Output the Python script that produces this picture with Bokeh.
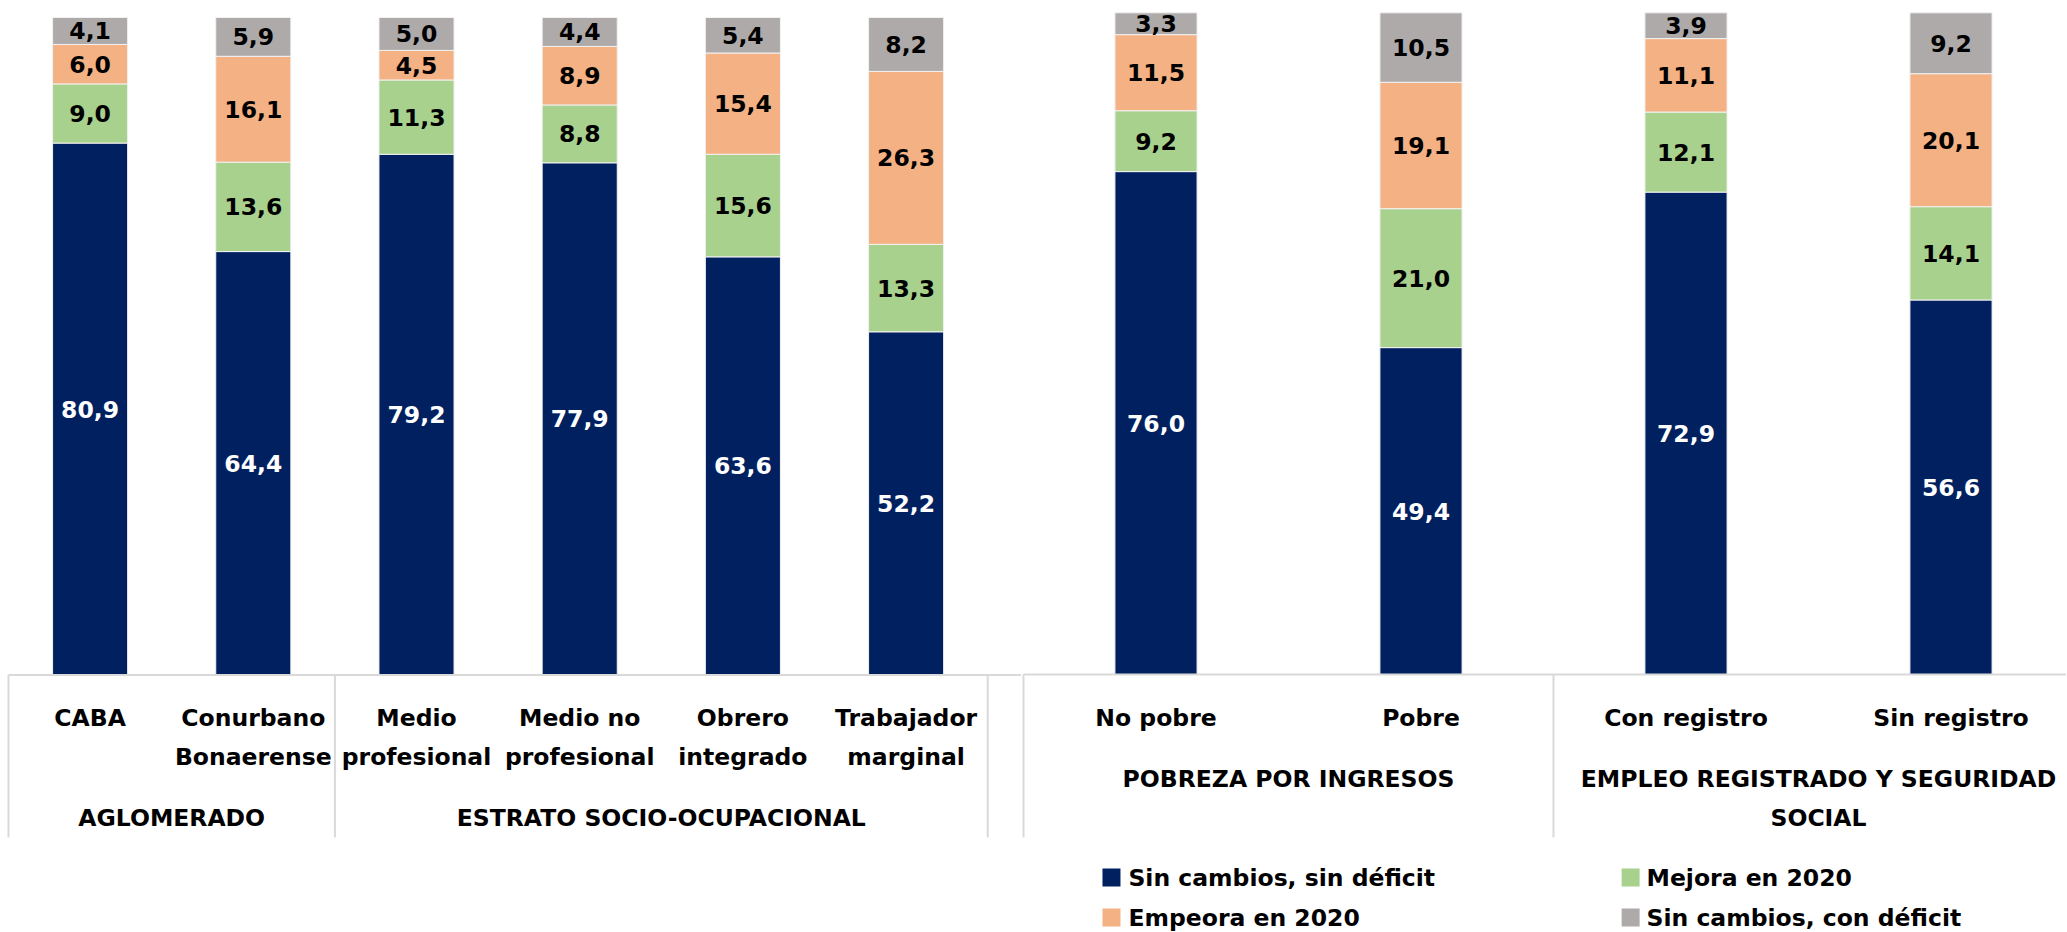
from bokeh.plotting import figure
from bokeh.models import ColumnDataSource, Range1d
from bokeh.layouts import row
from bokeh.embed import file_html
from bokeh.resources import INLINE
from bokeh.core.properties import value

# ---------------- data ----------------
series_names = ["Sin cambios, sin déficit", "Mejora en 2020", "Empeora en 2020", "Sin cambios, con déficit"]
series_colors = ["#002060", "#A9D18E", "#F4B183", "#AEAAAA"]
label_colors = ["#FFFFFF", "#000000", "#000000", "#000000"]

left_categories = ["CABA", "Conurbano\nBonaerense", "Medio\nprofesional", "Medio no\nprofesional",
                   "Obrero\nintegrado", "Trabajador\nmarginal"]
left_groups = ["AGLOMERADO", "ESTRATO SOCIO-OCUPACIONAL"]
left_group_sizes = [2, 4]
left_sin_deficit = [80.9, 64.4, 79.2, 77.9, 63.6, 52.2]
left_mejora = [9.0, 13.6, 11.3, 8.8, 15.6, 13.3]
left_empeora = [6.0, 16.1, 4.5, 8.9, 15.4, 26.3]
left_con_deficit = [4.1, 5.9, 5.0, 4.4, 5.4, 8.2]

right_categories = ["No pobre", "Pobre", "Con registro", "Sin registro"]
right_groups = ["POBREZA POR INGRESOS", "EMPLEO REGISTRADO Y SEGURIDAD\nSOCIAL"]
right_group_sizes = [2, 2]
right_sin_deficit = [76.0, 49.4, 72.9, 56.6]
right_mejora = [9.2, 21.0, 12.1, 14.1]
right_empeora = [11.5, 19.1, 11.1, 20.1]
right_con_deficit = [3.3, 10.5, 3.9, 9.2]

FONT = "DejaVu Sans"
FS = "23.5px"
FIG_H = 931


def fmt(v):
    return f"{v:.1f}".replace(".", ",")


def make_chart(categories, groups, group_sizes, series, width, slot_px, left_px,
               zero_px, hundred_px, bar_width, group_line_px, legend=False):
    scale = (zero_px - hundred_px) / 100.0
    x_start = -left_px / slot_px
    x_end = x_start + width / slot_px
    y_end = 100 + hundred_px / scale
    y_start = -(FIG_H - zero_px) / scale

    def yv(px):
        return (zero_px - px) / scale

    p = figure(width=width, height=FIG_H, output_backend="svg", toolbar_location=None,
               title=None, x_range=Range1d(x_start, x_end), y_range=Range1d(y_start, y_end),
               min_border_left=0, min_border_right=0, min_border_top=0, min_border_bottom=0)
    p.axis.visible = False
    p.grid.visible = False
    p.outline_line_color = None
    p.background_fill_color = "#FFFFFF"
    p.border_fill_color = "#FFFFFF"

    n = len(categories)
    xs = [i + 0.5 for i in range(n)]
    keys = ["s0", "s1", "s2", "s3"]
    data = {"x": xs}
    for k, s in zip(keys, series):
        data[k] = s
    src = ColumnDataSource(data)
    p.vbar_stack(keys, x="x", width=bar_width, source=src, color=series_colors,
                 line_color="#F2F2F2", line_width=1)

    # data labels
    for j, s in enumerate(series):
        lx, ly, lt = [], [], []
        for i in range(n):
            base = sum(series[k][i] for k in range(j))
            lx.append(xs[i])
            ly.append(base + s[i] / 2.0)
            lt.append(fmt(s[i]))
        p.text(x=lx, y=ly, text=lt, text_align="center", text_baseline="middle",
               text_font=value(FONT), text_font_style="bold", text_font_size=FS,
               text_color=label_colors[j])

    # axis line
    p.segment(x0=[0], y0=[0], x1=[x_end], y1=[0], line_color="#D9D9D9", line_width=2)

    # group separators
    bounds = [0]
    for g in group_sizes:
        bounds.append(bounds[-1] + g)
    sep_bottom = yv(837)
    p.segment(x0=bounds, y0=[0] * len(bounds), x1=bounds, y1=[sep_bottom] * len(bounds),
              line_color="#D9D9D9", line_width=2)

    # category labels
    l1 = [c.split("\n")[0] for c in categories]
    l2 = [c.split("\n")[1] if "\n" in c else "" for c in categories]
    for txt, py in ((l1, 717), (l2, 756)):
        p.text(x=xs, y=[yv(py)] * n, text=txt, text_align="center", text_baseline="middle",
               text_font=value(FONT), text_font_style="bold", text_font_size=FS,
               text_color="#000000")

    # group labels
    gx = [(bounds[i] + bounds[i + 1]) / 2.0 for i in range(len(groups))]
    for gi, gname in enumerate(groups):
        lines = gname.split("\n")
        for li, ln in enumerate(lines):
            p.text(x=[gx[gi]], y=[yv(group_line_px[li])], text=[ln], text_align="center",
                   text_baseline="middle", text_font=value(FONT), text_font_style="bold",
                   text_font_size=FS, text_color="#000000")

    if legend:
        col_marker = [0.332, 2.291]
        col_text = [0.396, 2.351]
        row_px = [877, 917]
        for k in range(4):
            c = k % 2
            r = k // 2
            p.rect(x=[col_marker[c]], y=[yv(row_px[r])], width=18, height=18,
                   width_units="screen", height_units="screen",
                   fill_color=series_colors[k], line_color=None)
            p.text(x=[col_text[c]], y=[yv(row_px[r])], text=[series_names[k]],
                   text_align="left", text_baseline="middle", text_font=value(FONT),
                   text_font_style="bold", text_font_size=FS, text_color="#000000")
    return p


left = make_chart(left_categories, left_groups, left_group_sizes,
                  [left_sin_deficit, left_mejora, left_empeora, left_con_deficit],
                  width=1021, slot_px=163.2, left_px=8.0, zero_px=674.5, hundred_px=17.0,
                  bar_width=0.46, group_line_px=[817])
right = make_chart(right_categories, right_groups, right_group_sizes,
                   [right_sin_deficit, right_mejora, right_empeora, right_con_deficit],
                   width=1045, slot_px=265.0, left_px=2.0, zero_px=674.0, hundred_px=12.3,
                   bar_width=0.31, group_line_px=[778, 817], legend=True)

layout = row(left, right, spacing=0)
open("out.html", "w").write(file_html(layout, INLINE))
